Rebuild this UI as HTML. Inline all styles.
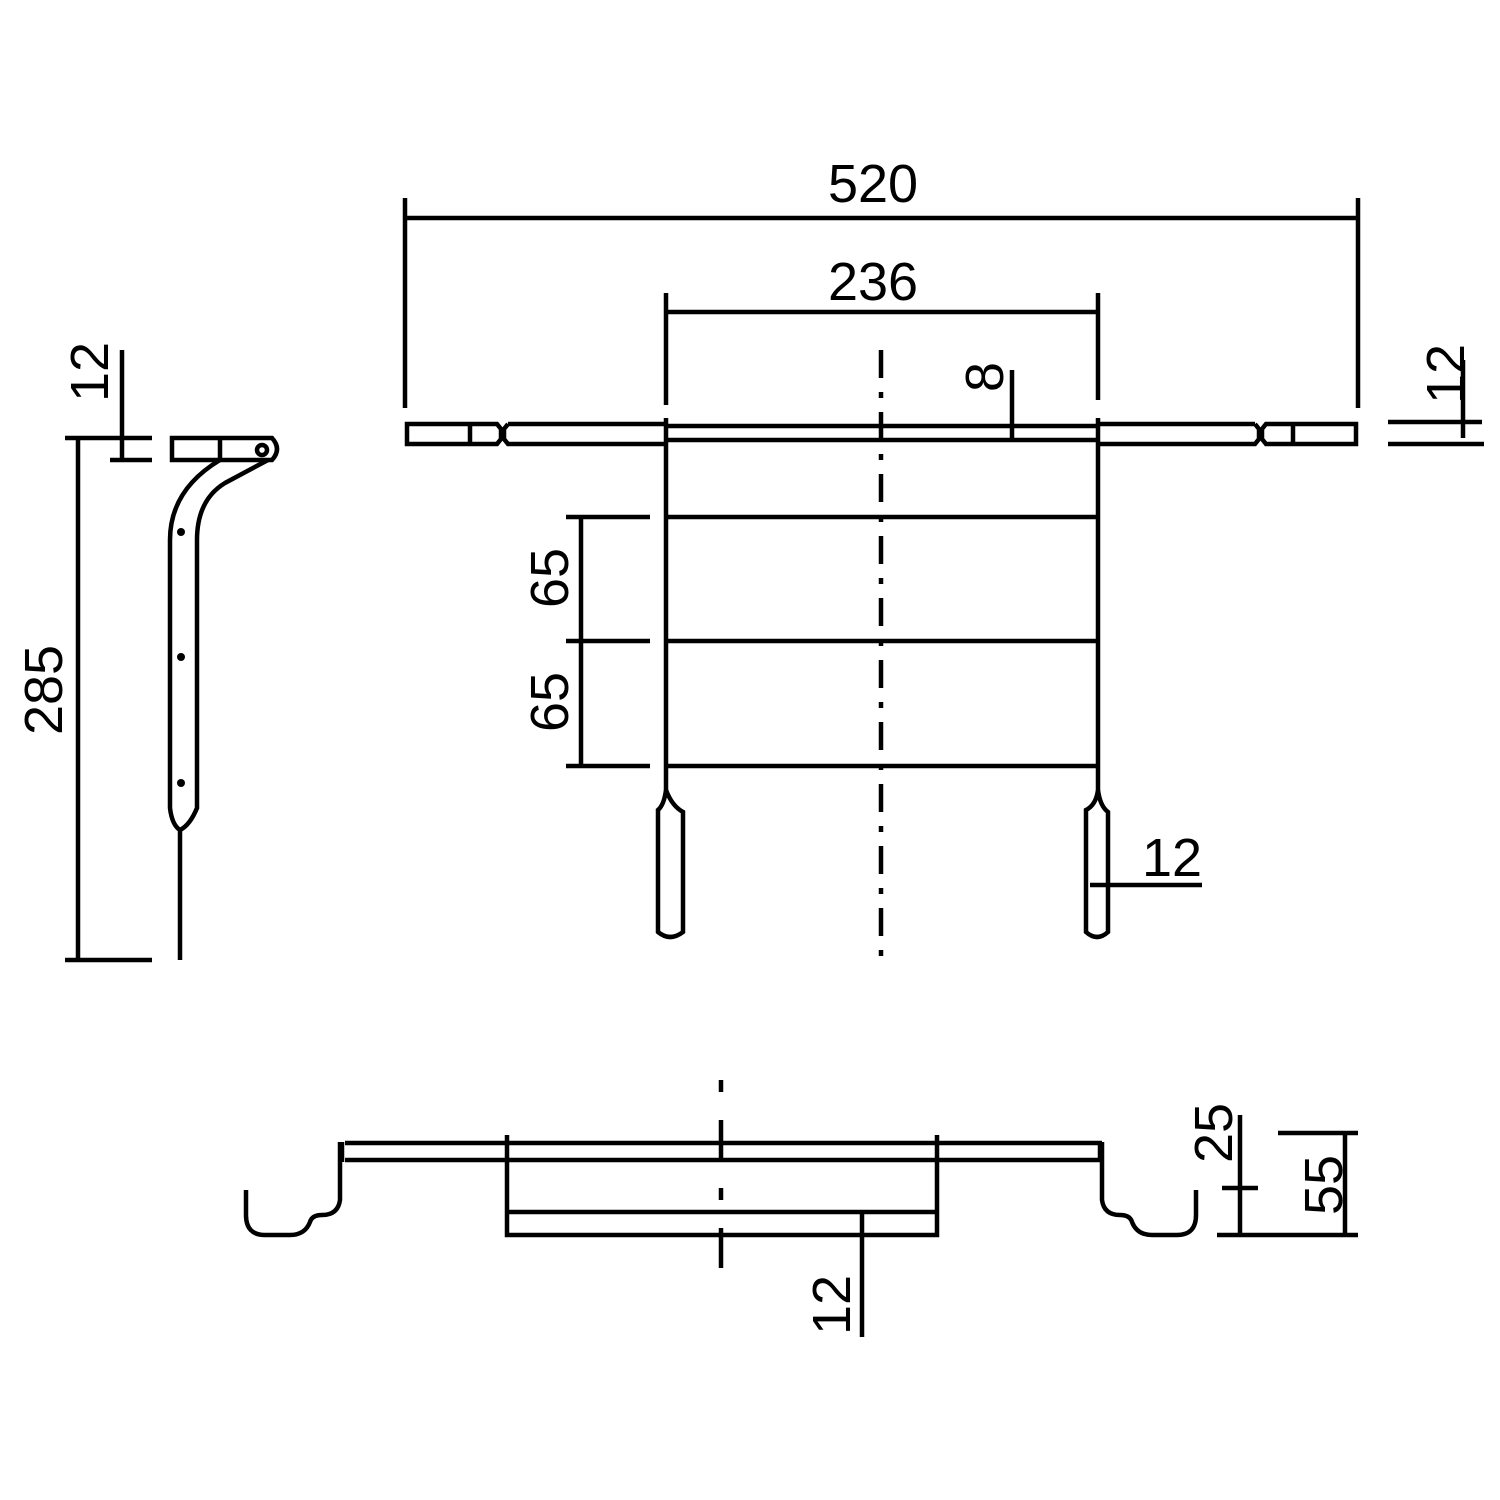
<!DOCTYPE html>
<html><head><meta charset="utf-8"><style>html,body{margin:0;background:#fff}svg{display:block}</style></head><body>
<svg width="1500" height="1500" viewBox="0 0 1500 1500" xmlns="http://www.w3.org/2000/svg" fill="none" stroke="#000" stroke-width="4.5" font-family="Liberation Sans, Arial, sans-serif">
<g font-size="54" fill="#000" stroke="none" text-anchor="middle">
<text x="873" y="202">520</text>
<text x="873" y="300">236</text>
<text x="1172" y="876">12</text>
<text transform="translate(1003,377) rotate(-90)">8</text>
<text transform="translate(108,372) rotate(-90)">12</text>
<text transform="translate(1464,374) rotate(-90)">12</text>
<text transform="translate(62,690) rotate(-90)">285</text>
<text transform="translate(568,578) rotate(-90)">65</text>
<text transform="translate(568,702) rotate(-90)">65</text>
<text transform="translate(850,1305) rotate(-90)">12</text>
<text transform="translate(1232,1133) rotate(-90)">25</text>
<text transform="translate(1342,1185) rotate(-90)">55</text>
</g>
<path d="M405 218H1358M405 198V408M1358 198V408M666 312H1098M666 293V405M1098 293V400"/>
<path d="M881 350V960" stroke-dasharray="28,14,6,14"/>
<path d="M1012 370V440"/>
<path d="M407 424H497L501 429V439L497 444H407Z M470 424V444 M508 424L504 429V439L508 444H666 M508 424H666"/>
<path d="M1356 424H1266L1262 429V439L1266 444H1356Z M1293 424V444 M1255 424L1259 429V439L1255 444H1098 M1255 424H1098"/>
<path d="M666 426H1098M666 440H1098"/>
<path d="M666 418V790M1098 418V790M666 517H1098M666 641H1098M666 766H1098"/>
<path d="M581 517V766M566 517H650M566 641H650M566 766H650"/>
<path d="M666 790Q664 805 658 810V932Q670 942 683 932V812Q672 806 666 790"/>
<path d="M1098 790Q1096 805 1086 810V932Q1097 942 1108 932V812Q1100 806 1098 790"/>
<path d="M1090 885H1202"/>
<path d="M1388 422H1482M1388 444H1484M1463 360V438"/>
<path d="M78 438V960M65 438H152M65 960H152M122 350V462M110 460H152"/>
<path d="M172 438H272Q282 449 272 460H172Z M220 438V460"/>
<circle cx="262" cy="450" r="5"/>
<path d="M220 460Q170 490 170 540V808Q172 825 180 830Q190 825 197 808V540Q197 500 225 483L268 460"/>
<path d="M180 830V960"/>
<g fill="#000" stroke="none"><circle cx="181" cy="532" r="4"/><circle cx="181" cy="657" r="4"/><circle cx="181" cy="783" r="4"/></g>
<path d="M721 1080V1290" stroke-dasharray="12,28,40,28"/>
<path d="M345 1143H1102M345 1160H1102M342 1142V1162M1100 1142V1162"/>
<path d="M507 1135V1235H937V1135M507 1212H937M862 1212V1337"/>
<path d="M340 1142V1200Q338 1215 322 1215Q312 1215 310 1222Q305 1235 290 1235H265Q246 1235 246 1215V1190"/>
<path d="M1102 1142V1200Q1104 1215 1120 1215Q1130 1215 1132 1222Q1137 1235 1152 1235H1177Q1196 1235 1196 1215V1190"/>
<path d="M1240 1115V1235M1222 1188H1258M1217 1235H1358M1345 1133V1235M1278 1133H1358"/>
</svg>
</body></html>
